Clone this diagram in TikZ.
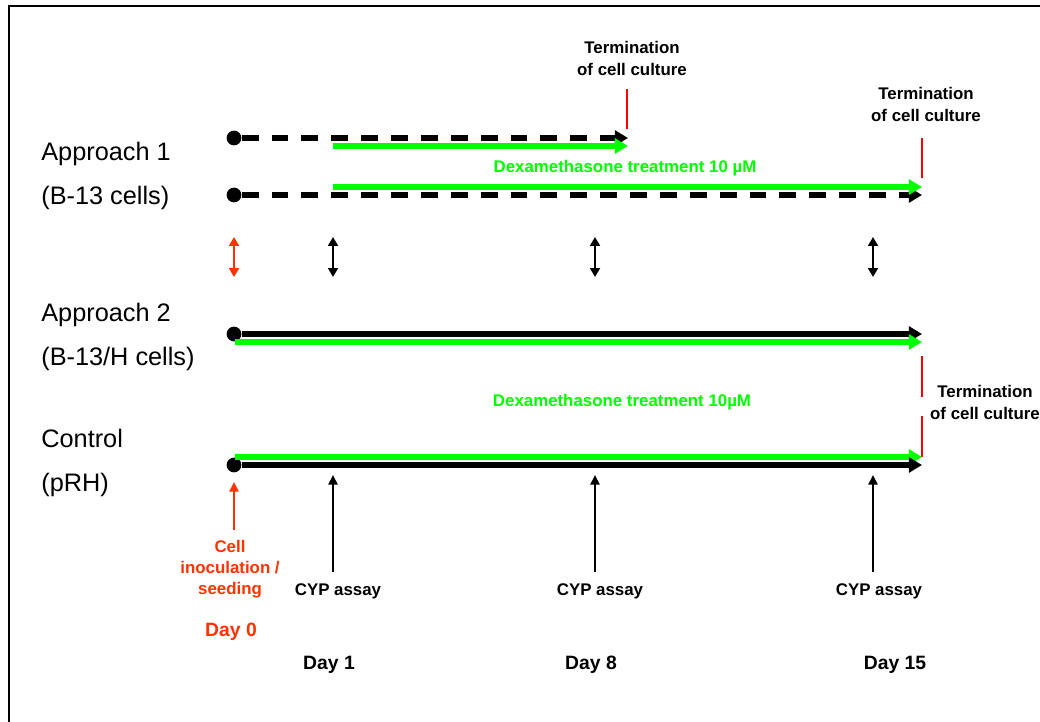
\documentclass[tikz,border=0pt]{standalone}
\usepackage{fontspec}
\setmainfont{Liberation Sans}
\usetikzlibrary{positioning,arrows.meta}
\definecolor{dexgreen}{RGB}{0,255,0}
\definecolor{termred}{RGB}{255,0,0}
\definecolor{seedred}{RGB}{255,51,0}

\begin{document}
\begin{tikzpicture}[x=0.02cm,y=-0.02cm,
    every node/.style={inner sep=0pt},
    rowlbl/.style={anchor=base west,font=\fontsize{14.4}{17}\selectfont},
    note/.style={align=center,font=\bfseries\fontsize{9.6}{12}\selectfont},
    daylbl/.style={font=\bfseries\fontsize{11}{13}\selectfont},
    startdot/.style={circle,fill=black,minimum size=8.4pt},
    culture/.style={line width=3pt,-{Triangle[length=7.5pt,width=8.5pt]}},
    dashedculture/.style={culture,line width=3.2pt,dash pattern=on 9.6pt off 7.4pt},
    dex/.style={culture,dexgreen},
    check/.style={line width=1.6pt,{Triangle[length=5pt,width=5.5pt]}-{Triangle[length=5pt,width=5.5pt]}},
    assay/.style={line width=1.2pt,-{Triangle[length=5.5pt,width=5.2pt]}},
    stopline/.style={termred,line width=1.5pt}
  ]
  \useasboundingbox (0,0) rectangle (1040,722);
  \draw[line width=1.3pt] (9,722) -- (9,6) -- (1040,6);

  % row labels
  \node[rowlbl] (ap1) at (41,161) {Approach 1};
  \node[rowlbl] (ap1c) at (41,205) {(B-13 cells)};
  \node[rowlbl] (ap2) at (41,322) {Approach 2};
  \node[rowlbl] (ap2c) at (41,366) {(B-13/H cells)};
  \node[rowlbl] (ctl) at (41,447) {Control};
  \node[rowlbl] (ctlc) at (41,491) {(pRH)};

  % approach 1
  \node[startdot] (a1) at (234,138) {};
  \node[startdot] (a2) at (234,195) {};
  \coordinate (a1end) at (628,138);
  \coordinate (a2end) at (922,195);
  \coordinate (dexA) at (333,146);
  \coordinate (dexAend) at (628,146);
  \coordinate (dexB) at (333,187);
  \coordinate (dexBend) at (922,187);
  \draw[dashedculture] (a1) -- (a1end);
  \draw[dashedculture] (a2) -- (a2end);
  \draw[dex] (dexA) -- (dexAend);
  \draw[dex] (dexB) -- (dexBend);
  \node[note,dexgreen] (dex1) at (625,168) {Dexamethasone treatment 10 µM};

  % termination marks
  \coordinate (t1top) at (627,89);
  \coordinate (t1bot) at (627,129);
  \coordinate (t2top) at (922,138);
  \coordinate (t2bot) at (922,178);
  \coordinate (t3top) at (922,356);
  \coordinate (t3mid) at (922,397);
  \coordinate (t4mid) at (922,416);
  \coordinate (t4bot) at (922,457);
  \draw[stopline] (t1top) -- (t1bot);
  \draw[stopline] (t2top) -- (t2bot);
  \draw[stopline] (t3top) -- (t3mid);
  \draw[stopline] (t4mid) -- (t4bot);
  \node[note] (term1) at (632,58.5) {Termination\\of cell culture};
  \node[note] (term2) at (926,104.5) {Termination\\of cell culture};
  \node[note] (term3) at (985,402.5) {Termination\\of cell culture};

  % comparison arrows
  \coordinate (c0a) at (234,237);
  \coordinate (c0b) at (234,277);
  \draw[check,seedred] (c0a) -- (c0b);
  \foreach \x/\n in {333/c1,595/c8,873/c15}{
    \coordinate (\n a) at (\x,237);
    \coordinate (\n b) at (\x,277);
    \draw[check] (\n a) -- (\n b);
  }

  % approach 2
  \node[startdot] (b1) at (234,334) {};
  \coordinate (b1end) at (922,334);
  \coordinate (dexC) at (235,342);
  \coordinate (dexCend) at (922,342);
  \draw[culture] (b1) -- (b1end);
  \draw[dex] (dexC) -- (dexCend);
  \node[note,dexgreen] (dex2) at (622,402) {Dexamethasone treatment 10µM};

  % control
  \node[startdot] (k1) at (234,465) {};
  \coordinate (k1end) at (922,465);
  \coordinate (dexD) at (235,457);
  \coordinate (dexDend) at (922,457);
  \draw[dex] (dexD) -- (dexDend);
  \draw[culture] (k1) -- (k1end);

  % seeding and assays
  \node[note,seedred] (seed) at (230,569.5) {Cell\\inoculation /\\seeding};
  \node[daylbl,seedred] (day0) at (231,632) {Day 0};
  \coordinate (seedtip) at (234,482);
  \draw[assay,seedred] (234,530) -- (seedtip);
  \foreach \x/\lx/\dx/\d in {333/338/329/1,595/600/591/8,873/879/895/15}{
    \node[note] (cyp\d) at (\lx,591.5) {CYP assay};
    \node[daylbl] (day\d) at (\dx,665) {Day \d};
    \coordinate (tip\d) at (\x,475);
    \draw[assay] (\x,572) -- (tip\d);
  }
\end{tikzpicture}
\end{document}
